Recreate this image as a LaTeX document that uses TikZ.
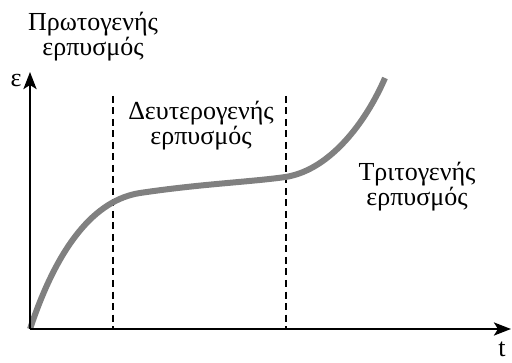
\documentclass[tikz,border=0pt]{standalone}
\usepackage{fontspec}
\setmainfont{Liberation Serif}
\usetikzlibrary{arrows.meta}
\definecolor{creepgray}{RGB}{128,128,128}

\begin{document}
\begin{tikzpicture}[x=1pt,y=1pt,
		axis/.style={line width=2.8pt,-{Stealth[length=17pt,width=13pt,inset=4pt]}},
		stage/.style={line width=2pt,dash pattern=on 7pt off 4.5pt},
		creep/.style={line width=6pt,creepgray},
		lbl/.style={align=center,font=\fontsize{26}{25}\selectfont,inner sep=0pt}]
			\useasboundingbox (0,0) rectangle (512,362);
			\coordinate (O) at (30,33);
			\coordinate (tend) at (511,33);
			\coordinate (eend) at (30,290);
			\coordinate (d1top) at (113,266);
			\coordinate (d1bot) at (113,33);
			\coordinate (d2top) at (285.5,266);
			\coordinate (d2bot) at (285.5,33);
			\coordinate (knee) at (140,169);
			\coordinate (bend) at (285.5,185);
			\coordinate (cend) at (385,284);
			\draw[stage] (d1top) -- (d1bot);
			\draw[stage] (d2top) -- (d2bot);
			\draw[creep] (O) .. controls (58,117) and (95,162) .. (knee)
				.. controls (200,178) and (250,180) .. (bend)
				.. controls (330,192) and (366,240) .. (cend);
			\draw[axis] (O) -- (tend);
			\draw[axis] (O) -- (eend);
%			labels
			\node[lbl] (eps) at (16,281) {ε};
			\node[lbl,anchor=base] (time) at (502,6) {t};
			\node[lbl,anchor=north] (primary) at (93,350) {Πρωτογενής\\ερπυσμός};
			\node[lbl,anchor=north] (secondary) at (201,261) {Δευτερογενής\\ερπυσμός};
			\node[lbl,anchor=north] (tertiary) at (417,200) {Τριτογενής\\ερπυσμός};
		\end{tikzpicture}
\end{document}
